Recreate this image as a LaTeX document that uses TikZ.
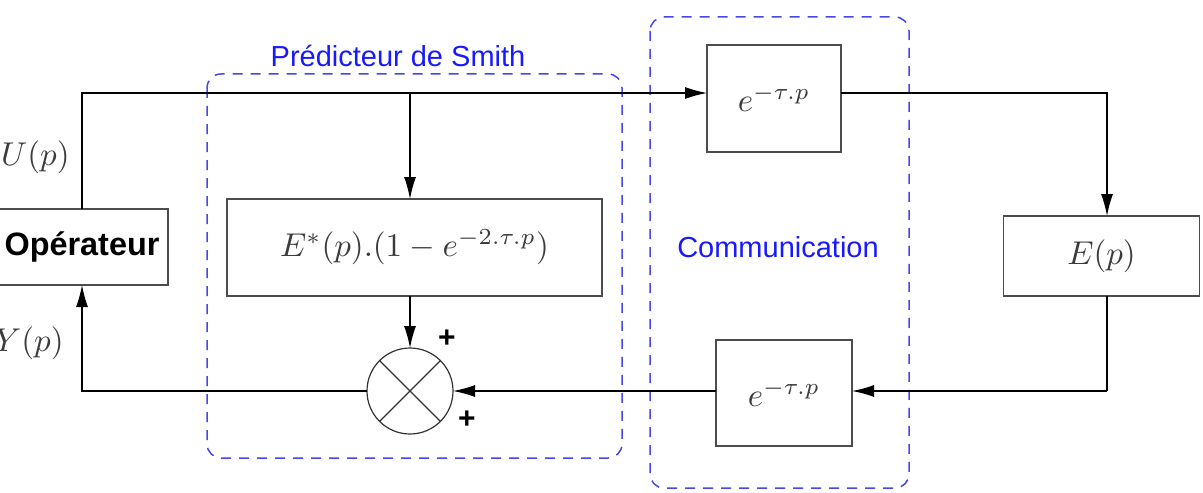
\documentclass[tikz,border=0pt]{standalone}
\usepackage{graphicx}
\usepackage{fontspec}
\newfontfamily\arialfont{Liberation Sans}
\usetikzlibrary{arrows.meta}
\definecolor{dashblue}{RGB}{70,70,235}
\definecolor{txtblue}{RGB}{25,25,255}
\definecolor{mathgray}{RGB}{60,60,60}
\newcommand{\mth}[1]{\scalebox{1.65}{$#1$}}
\begin{document}
\begin{tikzpicture}[x=0.5pt,y=-0.5pt,
  blk/.style={draw=black!70,line width=0.75pt,inner sep=0pt,outer sep=0pt,fill=white,
     text=mathgray},
  conn/.style={line width=0.6pt,black},
  arr/.style={conn,-{Latex[length=11pt,width=6pt]}},
  grp/.style={draw=dashblue,line width=0.75pt,dash pattern=on 5pt off 4pt,rounded corners=7pt},
  grplabel/.style={text=txtblue,font=\arialfont\fontsize{14.5}{17}\selectfont,inner sep=0pt},
  sig/.style={text=mathgray,inner sep=0pt},
  pm/.style={font=\arialfont\bfseries\fontsize{15}{18}\selectfont,inner sep=0pt}]
\useasboundingbox (0,0) rectangle (1203,492);
\clip (0,0) rectangle (1203,492);
% groups
\draw[grp] (207,74) rectangle (622,458);
\draw[grp] (650,17) rectangle (909,488);
\node[grplabel] (lsmith) at (398,56) {Prédicteur de Smith};
\node[grplabel] (lcomm) at (778,247) {Communication};
% blocks
\node[blk,minimum width=86pt,minimum height=38pt,text=black,font=\arialfont\bfseries\fontsize{16.2}{19}\selectfont] (op) at (82,247) {Opérateur};
\node[blk,minimum width=187.5pt,minimum height=48.5pt] (es) at (414.5,247.5) {\mth{E^{*}(p).(1-e^{-2.\tau.p})}};
\node[blk,minimum width=67pt,minimum height=53.5pt] (e1) at (774,98.5) {\mth{e^{-\tau.p}}};
\node[blk,minimum width=68pt,minimum height=53pt] (e2) at (784,393) {\mth{e^{-\tau.p}}};
\node[blk,minimum width=98pt,minimum height=40pt] (Ep) at (1101.5,256) {\mth{E(p)}};
\node[draw=black!80,line width=0.6pt,circle,minimum size=43pt,inner sep=0pt,outer sep=0pt,fill=white] (cir) at (410,391) {};
\draw[line width=0.6pt,black!80] (cir.north west) -- (cir.south east) (cir.north east) -- (cir.south west);
% signs
\node[pm] (p1) at (447,339) {+};
\node[pm] (p2) at (467,420) {+};
\node[sig,anchor=east] (U) at (70,157) {\mth{U(p)}};
\node[sig,anchor=east] (Y) at (64,343) {\mth{Y(p)}};
% coordinates
\coordinate (top) at (82,93);
\coordinate (xr) at (1107,391);
% connectors
\draw[arr] (op.north) |- (e1.west |- top);
\draw[arr] (cir.center |- top) -- (cir.center |- es.north);
\draw[arr] (cir.center |- es.south) -- (cir.north);
\draw[arr] (e1.east |- top) -| (xr |- Ep.north);
\draw[conn] (xr |- Ep.south) -- (xr);
\draw[arr] (xr) -- (e2.east |- xr);
\draw[arr] (e2.west |- xr) -- (cir.east);
\draw[arr] (cir.west) -| (op.south);
\end{tikzpicture}
\end{document}
